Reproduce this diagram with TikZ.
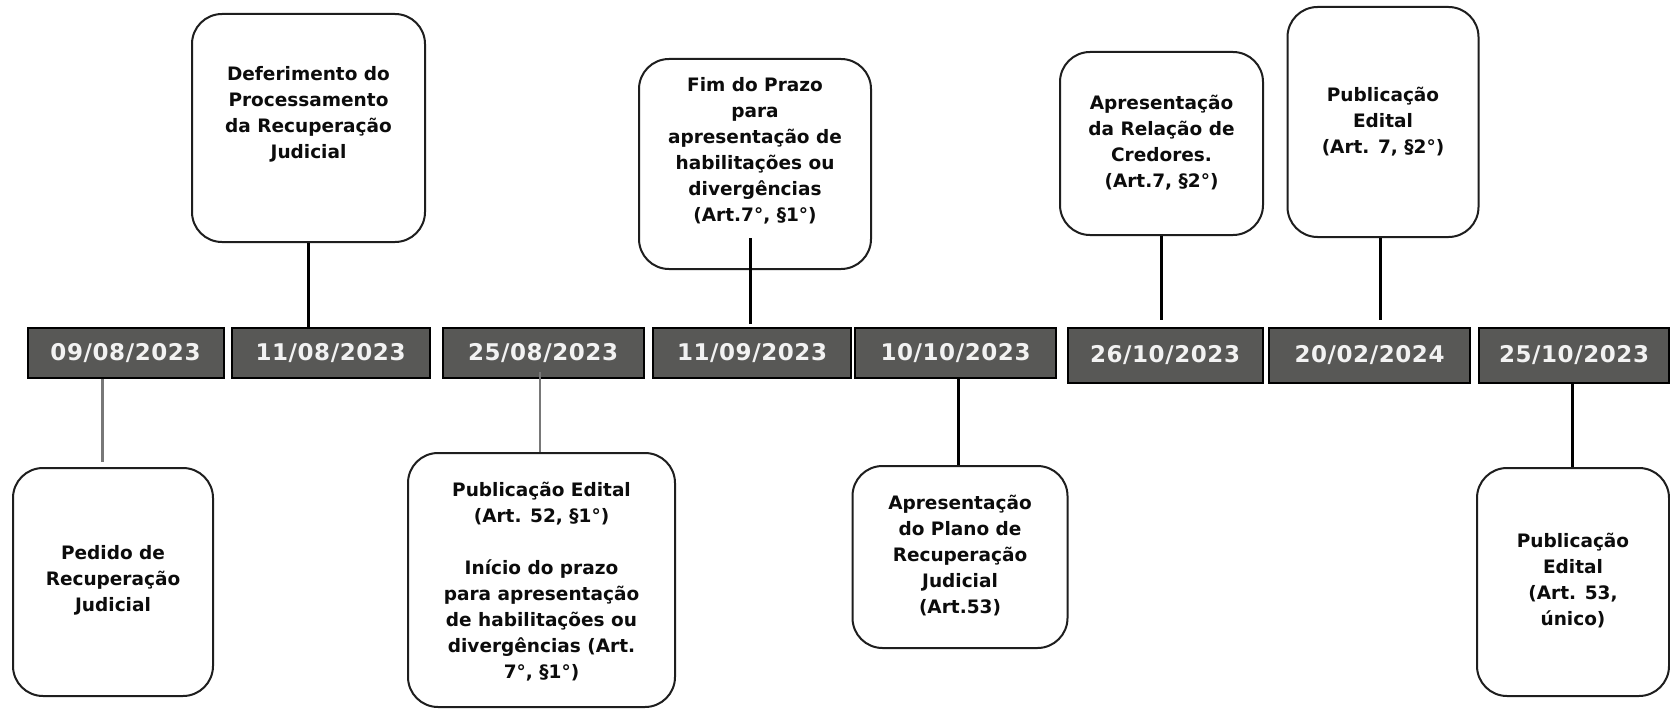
\documentclass[tikz,border=0pt]{standalone}
\usepackage{fontspec}
\setmainfont{DejaVu Sans}
\newfontfamily\datefont[LetterSpace=2.5]{DejaVu Sans}
\usetikzlibrary{positioning}
\definecolor{dategray}{RGB}{88,88,86}
\definecolor{datetext}{RGB}{242,242,242}
\definecolor{thingray}{RGB}{120,120,120}
\definecolor{boxline}{RGB}{30,30,30}
\definecolor{txtcol}{RGB}{12,12,12}
\tikzset{
  datebox/.style={draw=black, line width=2pt, fill=dategray, text=datetext,
    font=\datefont\fontsize{23}{26}\selectfont\bfseries, inner sep=0pt, minimum height=50pt},
  evbox/.style={draw=boxline, line width=2pt, rounded corners=30pt, fill=white, inner sep=0pt},
  evtext/.style={align=center, text=txtcol, font=\fontsize{18.5}{26}\selectfont\bfseries, inner sep=0pt},
  darkconn/.style={draw=black, line width=3pt},
  greyconn/.style={draw=thingray, line width=2.2pt},
}
\begin{document}
\begin{tikzpicture}[x=1pt,y=-1pt]
\useasboundingbox[fill=white] (0,0) rectangle (1670,709);

% date boxes
\node[datebox, minimum width=196pt] (d1) at (125.5,353) {09/08/2023};
\node[datebox, minimum width=198pt] (d2) at (330.5,353) {11/08/2023};
\node[datebox, minimum width=201pt] (d3) at (543,353) {25/08/2023};
\node[datebox, minimum width=198pt] (d4) at (752,353) {\raisebox{2pt}{11/09/2023}};
\node[datebox, minimum width=201pt] (d5) at (955.5,353) {10/10/2023};
\node[datebox, minimum width=195pt, minimum height=55pt] (d6) at (1165,355.5) {26/10/2023};
\node[datebox, minimum width=201pt, minimum height=55pt] (d7) at (1369.5,355.5) {20/02/2024};
\node[datebox, minimum width=190pt, minimum height=55pt] (d8) at (1574,355.5) {25/10/2023};

% event boxes (upper)
\node[evbox, minimum width=233pt, minimum height=228pt] (u2) at (308.5,128) {};
\node[evbox, minimum width=232pt, minimum height=210pt] (u4) at (755,164) {};
\node[evbox, minimum width=203pt, minimum height=183pt] (u6) at (1161.5,143.5) {};
\node[evbox, minimum width=191pt, minimum height=230pt] (u7) at (1383,122) {};

% event boxes (lower)
\node[evbox, minimum width=200pt, minimum height=228pt] (l1) at (113,582) {};
\node[evbox, minimum width=267pt, minimum height=254pt] (l3) at (541.5,580) {};
\node[evbox, minimum width=215pt, minimum height=182pt] (l5) at (960,557) {};
\node[evbox, minimum width=192pt, minimum height=228pt] (l8) at (1573,582) {};

% texts
\node[evtext] (t2) at (308.5,114) {Deferimento do\\Processamento\\da Recuperação\\Judicial};
\node[evtext] (t4) at (755,150.5) {Fim do Prazo\\para\\apresentação de\\habilitações ou\\divergências\\(Art.7°, §1°)};
\node[evtext] (t6) at (1161.5,143) {Apresentação\\da Relação de\\Credores.\\(Art.7, §2°)};
\node[evtext] (t7) at (1383,121.5) {Publicação\\Edital\\(Art. 7, §2°)};
\node[evtext] (t1) at (113,580.5) {Pedido de\\Recuperação\\Judicial};
\node[evtext] (t3) at (541.5,581.5) {Publicação Edital\\(Art. 52, §1°)\\[26pt]Início do prazo\\para apresentação\\de habilitações ou\\divergências (Art.\\7°, §1°)};
\node[evtext] (t5) at (960,556) {Apresentação\\do Plano de\\Recuperação\\Judicial\\(Art.53)};
\node[evtext] (t8) at (1573,580.5) {Publicação\\Edital\\(Art. 53,\\único)};

% connectors
\draw[greyconn, shorten >=5pt] ([xshift=-23pt]d1.south) -- ([xshift=-23pt]d1.south |- l1.north);
\draw[darkconn] (u2.south) -- (u2.south |- d2.north);
\draw[greyconn, shorten <=-7pt] ([xshift=-3pt]d3.south) -- ([xshift=-3pt]d3.south |- l3.north);
\draw[darkconn, shorten <=-32pt, shorten >=3pt] ([xshift=-5pt]u4.south) -- ([xshift=-5pt]u4.south |- d4.north);
\draw[darkconn] ([xshift=2.5pt]d5.south) -- ([xshift=2.5pt]d5.south |- l5.north);
\draw[darkconn, shorten >=7pt] (u6.south) -- (u6.south |- d6.north);
\draw[darkconn, shorten >=7pt] ([xshift=-3pt]u7.south) -- ([xshift=-3pt]u7.south |- d7.north);
\draw[darkconn] ([xshift=-1.5pt]d8.south) -- ([xshift=-1.5pt]d8.south |- l8.north);
\end{tikzpicture}
\end{document}
